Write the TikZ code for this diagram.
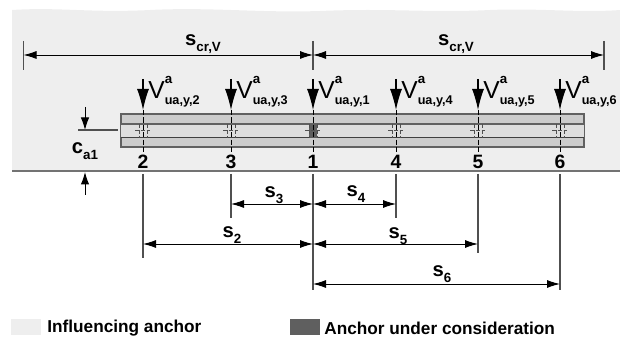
\documentclass[tikz,border=0pt]{standalone}
\usepackage{fontspec}
\setmainfont{Liberation Sans}
\usetikzlibrary{arrows.meta}
\definecolor{basecol}{HTML}{EEEEEE}
\definecolor{stripcol}{HTML}{CCCCCC}
\definecolor{platecol}{HTML}{DEDEDE}
\definecolor{darkcol}{HTML}{5F5F5F}
\definecolor{linecol}{HTML}{505050}
\newcommand{\symb}[2]{{\bfseries\fontsize{11.5}{12}\selectfont #1}\raisebox{-0.7ex}{\bfseries\fontsize{7.6}{8}\selectfont #2}}
\newcommand{\force}[1]{{\fontsize{14}{14}\selectfont V}\rlap{\raisebox{1.55ex}{\bfseries\fontsize{7.6}{8}\selectfont a}}\raisebox{-0.7ex}{\bfseries\fontsize{7.2}{8}\selectfont ua,y,#1}}
\tikzset{
    dimline/.style={line width=0.18mm,{Latex[length=2.6mm,width=1.6mm]}-{Latex[length=2.6mm,width=1.6mm]}},
    extline/.style={line width=0.22mm,draw=linecol},
    loadarrow/.style={line width=0.22mm,-{Latex[length=4.2mm,width=2.4mm]}},
    gaparrow/.style={line width=0.2mm,-{Latex[length=2.5mm,width=1.7mm]}},
    holeline/.style={line width=0.12mm,draw=linecol,dash pattern=on 2.2pt off 1.1pt},
    txt/.style={inner sep=0pt,font=\bfseries\fontsize{9.8}{12}\selectfont},
}
\begin{document}
\begin{tikzpicture}[x=0.2mm,y=-0.2mm]
    \useasboundingbox (0,0) rectangle (620,337);
    % base material
    \fill [basecol] (12,171)--(12,10) .. controls (60,7) and (90,13) .. (150,10) .. controls (210,7) and (260,13) .. (320,11) .. controls (390,8) and (430,13) .. (490,10) .. controls (540,8) and (580,13) .. (620,10)--(620,171)--cycle;
    \draw [line width=0.3mm,draw=linecol!80] (12,171)--(620,171);

    % fixture
    \draw [line width=0.25mm,draw=linecol!90,fill=stripcol] (121,114) rectangle (584,147);
    \fill [platecol] (121,124) rectangle (584,138);
    \draw [line width=0.25mm,draw=linecol!90] (121,124)--(584,124);
    \draw [line width=0.2mm,draw=black!75] (121,138)--(584,138);
    \fill [darkcol] (309,124) rectangle (317,138);

    \coordinate (b1) at (313,171);
    \coordinate (b2) at (143,171);
    \coordinate (b3) at (231,171);
    \coordinate (b4) at (396,171);
    \coordinate (b5) at (478,171);
    \coordinate (b6) at (560,171);

    % anchors
    \foreach \n in {1,...,6} {
        \draw [line width=0.15mm,dash pattern=on 3pt off 1.2pt] (b\n |- 0,110)--(b\n |- 0,152);
        \draw [holeline] ([xshift=-1.6mm]b\n |- 0,130)--([xshift=1.8mm]b\n |- 0,130);
        \draw [holeline] ([xshift=-0.8mm]b\n |- 0,124)--([xshift=-0.8mm]b\n |- 0,138);
        \draw [holeline] ([xshift=0.8mm]b\n |- 0,124)--([xshift=0.8mm]b\n |- 0,138);
        \draw [loadarrow] (b\n |- 0,79)--(b\n |- 0,110);
        \node [txt,font=\bfseries\fontsize{11}{12}\selectfont] (num\n) at (b\n |- 0,162) {\n};
        \node [inner sep=0pt,anchor=west] (load\n) at ([xshift=1mm]b\n |- 0,92) {\force{\n}};
    }

    % critical spacing
    \coordinate (left) at (23.5,55);
    \coordinate (right) at (604,55);
    \draw [extline] (23.5,41)--(23.5,70);
    \draw [extline] (313,41)--(313,70);
    \draw [extline] (604,41)--(604,70);
    \draw [dimline] (left)--(b1 |- left);
    \draw [dimline] (b1 |- left)--(right);
    \node (scrl) at (203,44) {\symb{s}{cr,V}};
    \node (scrr) at (456,44) {\symb{s}{cr,V}};

    % edge distance
    \draw [gaparrow] (85,107)--(85,130);
    \draw [extline] (78,130)--(118,130);
    \draw [gaparrow] (85,195)--(85,172);
    \node (ca) at (85,151) {\symb{c}{a1}};

    % spacings
    \draw [extline] (b1)++(0,3)--(313,290);
    \draw [extline] (b2)++(0,3)--(143,258);
    \draw [extline] (b3)++(0,3)--(231,218);
    \draw [extline] (b4)++(0,3)--(396,218);
    \draw [extline] (b5)++(0,3)--(478,253);
    \draw [extline] (b6)++(0,3)--(560,290);
    \draw [dimline] (b3 |- 0,204)--(b1 |- 0,204);
    \draw [dimline] (b1 |- 0,204)--(b4 |- 0,204);
    \draw [dimline] (b2 |- 0,244)--(b1 |- 0,244);
    \draw [dimline] (b1 |- 0,244)--(b5 |- 0,244);
    \draw [dimline] (b1 |- 0,284)--(b6 |- 0,284);
    \node (s3) at (274,195) {\symb{s}{3}};
    \node (s4) at (356,194) {\symb{s}{4}};
    \node (s2) at (232,235) {\symb{s}{2}};
    \node (s5) at (398,236) {\symb{s}{5}};
    \node (s6) at (442,274) {\symb{s}{6}};

    % legend
    \fill [basecol] (11,319) rectangle (41,335);
    \fill [darkcol] (290,319) rectangle (320,335);
    \node [txt,anchor=west] (lega) at (47,328) {Influencing anchor};
    \node [txt,anchor=west] (legb) at (324,328) {Anchor under consideration};
\end{tikzpicture}
\end{document}
